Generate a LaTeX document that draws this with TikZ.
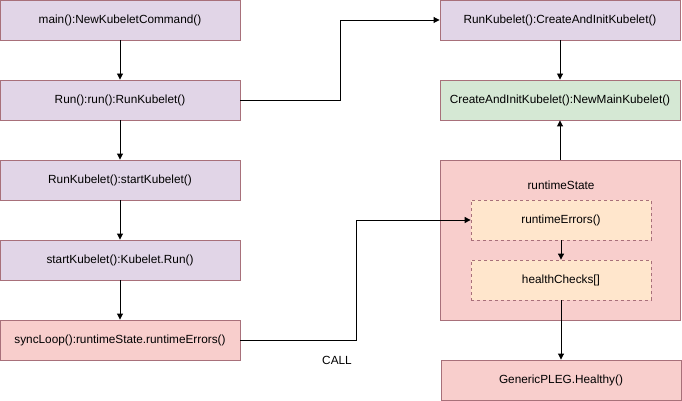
\documentclass[tikz,border=0pt]{standalone}
\usepackage{fontspec}
\setmainfont{Liberation Sans}
\usetikzlibrary{arrows.meta}
\definecolor{edge}{HTML}{A8707A}
\definecolor{lilac}{HTML}{E1D5E7}
\definecolor{mint}{HTML}{D5E8D4}
\definecolor{rose}{HTML}{F8CECC}
\definecolor{peach}{HTML}{FFE6CC}
\tikzset{
  label text/.style={font=\fontsize{11.8}{14}\selectfont},
  box/.style={draw=edge, line width=0.9pt, minimum width=240pt, minimum height=40pt,
    inner sep=0pt, label text},
  callbox/.style={box, fill=lilac},
  initbox/.style={box, fill=mint},
  statebox/.style={box, fill=rose},
  inner/.style={draw=edge, dashed, dash pattern=on 3pt off 3pt, line width=0.8pt, fill=peach,
    minimum width=180pt, minimum height=40pt, inner sep=0pt, label text},
  link/.style={draw=black, line width=0.9pt, -{Triangle[width=6pt,length=6pt]}},
}
\begin{document}
\begin{tikzpicture}[x=1pt,y=-1pt]
\useasboundingbox (0,0) rectangle (682,401);
% call chain on the left
\node[callbox] (main) at (120,20) {main():NewKubeletCommand()};
\node[callbox] (run) at (120,100) {Run():run():RunKubelet()};
\node[callbox] (start) at (120,180) {RunKubelet():startKubelet()};
\node[callbox] (krun) at (120,260) {startKubelet():Kubelet.Run()};
\node[statebox] (sync) at (120,340) {syncLoop():runtimeState.runtimeErrors()};
% initialisation on the right
\node[callbox] (create) at (560,20) {RunKubelet():CreateAndInitKubelet()};
\node[initbox] (newmain) at (560,100) {CreateAndInitKubelet():NewMainKubelet()};
% runtime state container
\node[statebox, minimum height=160pt] (state) at (560,240) {};
\node[label text] (statelbl) at (561,185) {runtimeState};
\node[inner] (errs) at (561,220) {runtimeErrors()};
\node[inner] (checks) at (561,280) {healthChecks[]};
\node[statebox] (pleg) at (561,380) {GenericPLEG.Healthy()};
% connectors
\draw[link] (main) -- (run);
\draw[link] (run) -- (start);
\draw[link] (start) -- (krun);
\draw[link] (krun) -- (sync);
\draw[link] (run.east) -- (340,100) -- (340,20) -- (create.west);
\draw[link] (create) -- (newmain);
\draw[link] (state.north) -- (newmain.south);
\draw[link] (sync.east) -- (356,340) -- (356,220) -- (errs.west);
\draw[link] (errs) -- (checks);
\draw[link] (checks) -- (pleg);
\node[label text] (call) at (337,360) {CALL};
\end{tikzpicture}
\end{document}
